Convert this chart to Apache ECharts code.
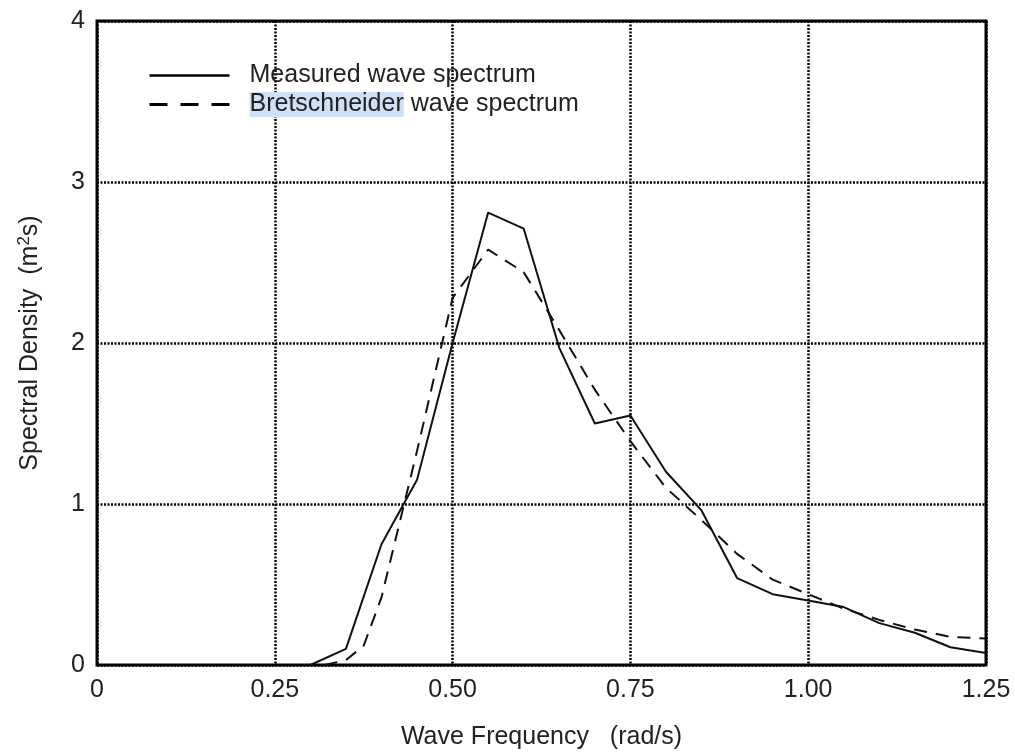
<!DOCTYPE html>
<html>
<head>
<meta charset="utf-8">
<script src="https://cdn.jsdelivr.net/npm/echarts@6/dist/echarts.min.js"></script>
<style>
  html, body { margin: 0; padding: 0; background: #fff; }
  #chart { width: 1015px; height: 755px; }
</style>
</head>
<body>
<div id="chart"></div>
<script>
// measured spectrum
var measuredFreq = [0.30, 0.35, 0.40, 0.45, 0.50, 0.55, 0.60, 0.65, 0.70, 0.75, 0.80, 0.85, 0.90, 0.95, 1.00, 1.05, 1.10, 1.15, 1.20, 1.25];
var measuredVal  = [0.00, 0.10, 0.75, 1.15, 2.00, 2.81, 2.71, 1.97, 1.50, 1.55, 1.20, 0.96, 0.54, 0.44, 0.40, 0.36, 0.26, 0.20, 0.11, 0.075];

// Bretschneider spectrum
var bretFreq = [0.32, 0.35, 0.375, 0.40, 0.45, 0.50, 0.55, 0.60, 0.65, 0.70, 0.75, 0.80, 0.85, 0.90, 0.95, 1.00, 1.05, 1.10, 1.15, 1.20, 1.25];
var bretVal  = [0.00, 0.03, 0.12, 0.42, 1.33, 2.28, 2.58, 2.44, 2.08, 1.71, 1.39, 1.10, 0.90, 0.69, 0.53, 0.44, 0.35, 0.28, 0.22, 0.175, 0.165];

var seriesNames = ['Measured wave spectrum', 'Bretschneider wave spectrum'];

function pairs(xs, ys) {
  var out = [];
  for (var i = 0; i < xs.length; i++) out.push([xs[i], ys[i]]);
  return out;
}

var font = '"Liberation Sans", Arial, sans-serif';
var fs = 25;
var myChart = echarts.init(document.getElementById('chart'));

var option = {
  animation: false,
  backgroundColor: '#fff',
  color: ['#111', '#111'],
  grid: {
    left: 97, right: 29, top: 21, bottom: 90,
    show: true, borderColor: '#000', borderWidth: 3
  },
  legend: {
    orient: 'vertical',
    left: 143,
    top: 58,
    itemWidth: 80,
    itemHeight: 14,
    itemGap: 4,
    data: [
      { name: seriesNames[0] },
      { name: seriesNames[1], lineStyle: { type: [18, 13], width: 3 } }
    ],
    itemStyle: { opacity: 0 },
    lineStyle: { width: 2.5, color: '#000' },
    formatter: function (name) {
      if (name === seriesNames[1]) return '{hl|Bretschneider}{t| wave spectrum}';
      return '{t|' + name + '}';
    },
    textStyle: {
      fontFamily: font,
      fontSize: fs,
      color: '#222',
      padding: [0, 0, 0, 15],
      rich: {
        t: { fontFamily: font, fontSize: fs, color: '#222', lineHeight: 29 },
        hl: { fontFamily: font, fontSize: fs, color: '#222', lineHeight: 29, backgroundColor: '#cfe1f7' }
      }
    }
  },
  xAxis: {
    type: 'value',
    min: 0, max: 1.25, interval: 0.25,
    name: 'Wave Frequency   (rad/s)',
    nameLocation: 'middle',
    nameGap: 60,
    nameTextStyle: { fontFamily: font, fontSize: fs, color: '#222' },
    axisLine: { show: false },
    axisTick: { show: false },
    axisLabel: {
      margin: 13,
      fontFamily: font, fontSize: fs, color: '#222',
      formatter: function (v) { return v === 0 ? '0' : v.toFixed(2); }
    },
    splitLine: { show: true, lineStyle: { color: '#000', width: 2.5, type: [2, 1.5] } }
  },
  yAxis: {
    type: 'value',
    min: 0, max: 4, interval: 1,
    name: '{a|Spectral Density  (m}{s|2}{a|s)}',
    nameLocation: 'middle',
    nameRotate: 90,
    nameGap: 52,
    nameTextStyle: {
      fontFamily: font, fontSize: fs, color: '#222',
      rich: {
        a: { fontFamily: font, fontSize: fs, color: '#222' },
        s: { fontFamily: font, fontSize: 17, color: '#222', verticalAlign: 'top', padding: [0, 0, 12, 0] }
      }
    },
    axisLine: { show: false },
    axisTick: { show: false },
    axisLabel: {
      margin: 12,
      fontFamily: font, fontSize: fs, color: '#222',
      formatter: function (v) { return String(v); }
    },
    splitLine: { show: true, lineStyle: { color: '#000', width: 2.5, type: [2, 1.5] } }
  },
  series: [
    {
      name: seriesNames[0],
      type: 'line',
      symbol: 'none',
      data: pairs(measuredFreq, measuredVal),
      lineStyle: { color: '#111', width: 2, type: 'solid' },
      z: 3
    },
    {
      name: seriesNames[1],
      type: 'line',
      symbol: 'none',
      data: pairs(bretFreq, bretVal),
      lineStyle: { color: '#111', width: 2, type: [13, 9] },
      z: 3
    }
  ]
};

option && myChart.setOption(option);
</script>
</body>
</html>
